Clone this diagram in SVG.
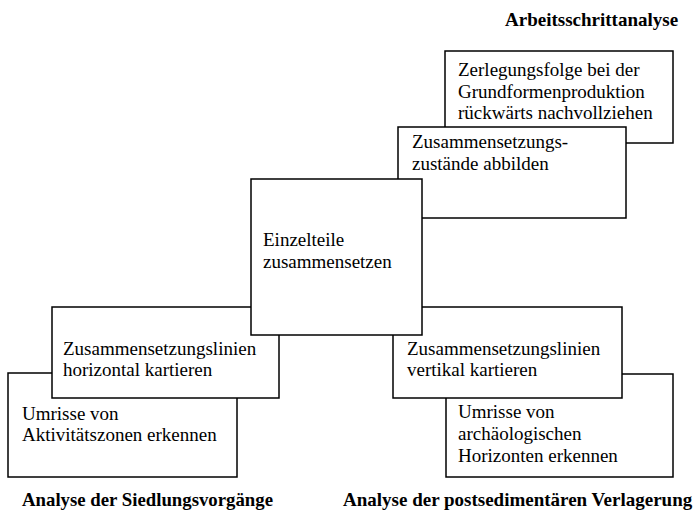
<svg xmlns="http://www.w3.org/2000/svg" width="697" height="514" viewBox="0 0 697 514">
<style>
.box{fill:#fff;stroke:#000;stroke-width:1.5}
.t{font-family:"Liberation Serif","Times New Roman",serif;font-size:19px;fill:#000}
.h{font-family:"Liberation Serif","Times New Roman",serif;font-size:19px;font-weight:bold;fill:#000}
</style>
<rect width="697" height="514" fill="#fff"/>
<g id="labels">
<text class="h" x="505" y="26">Arbeitsschrittanalyse</text>
<text class="h" x="22" y="506" textLength="251" lengthAdjust="spacingAndGlyphs">Analyse der Siedlungsvorgänge</text>
<text class="h" x="343" y="506">Analyse der postsedimentären Verlagerung</text>
</g>
<g id="connectors"></g>
<g id="node-zerlegung">
<rect class="box" x="445" y="51" width="228" height="92"/>
<text class="t" x="458" y="76">Zerlegungsfolge bei der</text>
<text class="t" x="458" y="98">Grundformenproduktion</text>
<text class="t" x="458" y="119">rückwärts nachvollziehen</text>
</g>
<g id="node-zustaende">
<rect class="box" x="398" y="127" width="228" height="91"/>
<text class="t" x="412" y="148">Zusammensetzungs-</text>
<text class="t" x="412" y="170">zustände abbilden</text>
</g>
<g id="node-umrisse-aktiv">
<rect class="box" x="8" y="373" width="229" height="104"/>
<text class="t" x="22" y="420">Umrisse von</text>
<text class="t" x="22" y="441">Aktivitätszonen erkennen</text>
</g>
<g id="node-horizontal">
<rect class="box" x="52" y="307" width="227" height="91"/>
<text class="t" x="63" y="355">Zusammensetzungslinien</text>
<text class="t" x="63" y="376">horizontal kartieren</text>
</g>
<g id="node-umrisse-horiz">
<rect class="box" x="446" y="374" width="227" height="103"/>
<text class="t" x="458" y="418">Umrisse von</text>
<text class="t" x="458" y="440">archäologischen</text>
<text class="t" x="458" y="462">Horizonten erkennen</text>
</g>
<g id="node-vertikal">
<rect class="box" x="393" y="307" width="229" height="91"/>
<text class="t" x="407" y="355">Zusammensetzungslinien</text>
<text class="t" x="407" y="376">vertikal kartieren</text>
</g>
<g id="node-einzelteile">
<rect class="box" x="251" y="179" width="171" height="156"/>
<text class="t" x="263" y="246">Einzelteile</text>
<text class="t" x="263" y="268">zusammensetzen</text>
</g>
</svg>
